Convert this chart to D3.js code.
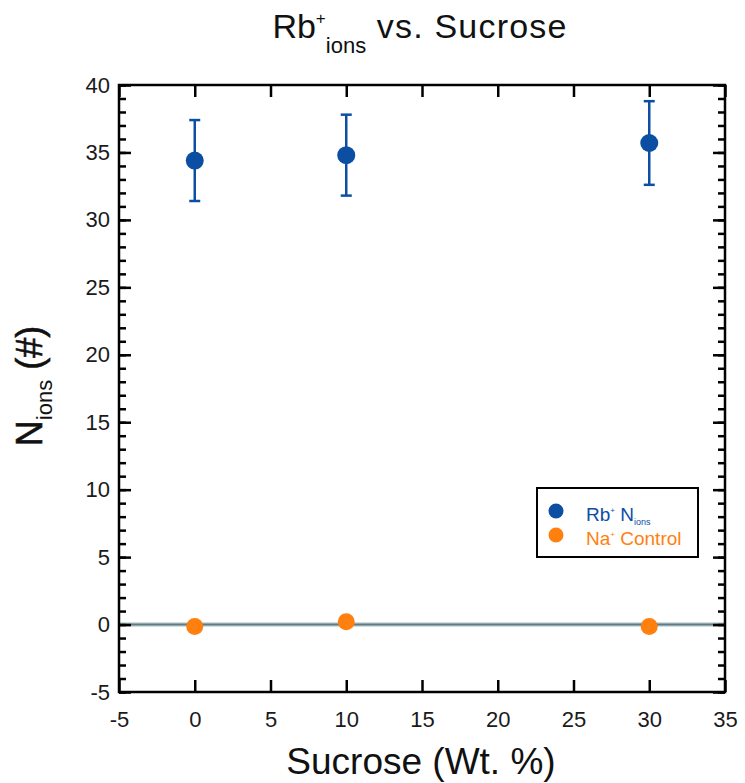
<!DOCTYPE html>
<html>
<head>
<meta charset="utf-8">
<script src="https://cdn.jsdelivr.net/npm/d3@7"></script>
<style>
  body { margin: 0; background: #fff; }
  svg { display: block; font-family: "Liberation Sans", Arial, sans-serif; }
</style>
</head>
<body>
<svg id="chart" width="745" height="783"></svg>
<script>
// ---- data ----
const sucrose = [0, 10, 30];
const rbMean = [34.4, 34.8, 35.7];
const rbErr = [3.0, 3.0, 3.1];
const naMean = [-0.15, 0.2, -0.15];
const xTicks = [-5, 0, 5, 10, 15, 20, 25, 30, 35];
const yTicks = [-5, 0, 5, 10, 15, 20, 25, 30, 35, 40];
const yMinorTicks = d3.range(-5, 41, 1);

const blue = "#0b4ea2";
const orange = "#ff7f0f";

const svg = d3.select("#chart");
const m = { left: 119, right: 725, top: 85, bottom: 692 };

const x = d3.scaleLinear().domain([-5, 35]).range([m.left, m.right]);
const y = d3.scaleLinear().domain([-5, 40]).range([m.bottom, m.top]);
const fmt = d => String(d);

// zero line
svg.append("line")
  .attr("x1", m.left).attr("x2", m.right)
  .attr("y1", y(0)).attr("y2", y(0))
  .attr("stroke", "#c3d2d5").attr("stroke-width", 4.5);
svg.append("line")
  .attr("x1", m.left).attr("x2", m.right)
  .attr("y1", y(0)).attr("y2", y(0))
  .attr("stroke", "#5e7c84").attr("stroke-width", 2);

// axes (inward ticks)
const g = svg.append("g");
const bottomAxis = d3.axisBottom(x).tickValues(xTicks).tickSize(-12).tickPadding(19).tickFormat(fmt);
const topAxis = d3.axisTop(x).tickValues(xTicks).tickSize(-12).tickFormat("");
const leftMinor = d3.axisLeft(y).tickValues(yMinorTicks).tickSize(-7).tickFormat("");
const rightMinor = d3.axisRight(y).tickValues(yMinorTicks).tickSize(-7).tickFormat("");
const leftAxis = d3.axisLeft(y).tickValues(yTicks).tickSize(-12).tickPadding(9).tickFormat(fmt);
const rightAxis = d3.axisRight(y).tickValues(yTicks).tickSize(-12).tickFormat("");

function style(sel) {
  sel.select(".domain").remove();
  sel.selectAll(".tick line").attr("stroke", "#000").attr("stroke-width", 2.5);
  sel.selectAll(".tick text").attr("fill", "#1a1a1a").attr("font-size", 22)
     .attr("font-family", "'Liberation Sans', Arial, sans-serif");
}
g.append("g").attr("transform", `translate(0,${m.bottom})`).call(bottomAxis).call(style);
g.append("g").attr("transform", `translate(0,${m.top})`).call(topAxis).call(style);
g.append("g").attr("transform", `translate(${m.left},0)`).call(leftMinor).call(style);
g.append("g").attr("transform", `translate(${m.right},0)`).call(rightMinor).call(style);
g.append("g").attr("transform", `translate(${m.left},0)`).call(leftAxis).call(style);
g.append("g").attr("transform", `translate(${m.right},0)`).call(rightAxis).call(style);

// frame
svg.append("rect")
  .attr("x", m.left).attr("y", m.top)
  .attr("width", m.right - m.left).attr("height", m.bottom - m.top)
  .attr("fill", "none").attr("stroke", "#000").attr("stroke-width", 2.5);

// error bars Rb
const eb = svg.append("g").attr("stroke", blue).attr("stroke-width", 2.5);
sucrose.forEach((s, i) => {
  const cx = x(s);
  const y1 = y(rbMean[i] + rbErr[i]), y2 = y(rbMean[i] - rbErr[i]);
  eb.append("line").attr("x1", cx).attr("x2", cx).attr("y1", y1).attr("y2", y2);
  eb.append("line").attr("x1", cx - 5.5).attr("x2", cx + 5.5).attr("y1", y1).attr("y2", y1);
  eb.append("line").attr("x1", cx - 5.5).attr("x2", cx + 5.5).attr("y1", y2).attr("y2", y2);
});

// points
svg.append("g").selectAll("circle").data(sucrose).join("circle")
  .attr("cx", d => x(d)).attr("cy", (d, i) => y(rbMean[i])).attr("r", 9).attr("fill", blue);
svg.append("g").selectAll("circle").data(sucrose).join("circle")
  .attr("cx", d => x(d)).attr("cy", (d, i) => y(naMean[i])).attr("r", 8.5).attr("fill", orange);

// legend
const lg = svg.append("g");
lg.append("rect").attr("x", 537).attr("y", 488).attr("width", 161).attr("height", 69)
  .attr("fill", "#fff").attr("stroke", "#000").attr("stroke-width", 2);
lg.append("circle").attr("cx", 556).attr("cy", 511).attr("r", 7.5).attr("fill", blue);
lg.append("circle").attr("cx", 556).attr("cy", 535).attr("r", 7.5).attr("fill", orange);
const t1 = lg.append("text").attr("x", 586).attr("y", 521).attr("font-size", 19).attr("fill", blue);
t1.append("tspan").text("Rb");
t1.append("tspan").attr("font-size", 8).attr("dy", -8).text("+");
t1.append("tspan").attr("dy", 8).text(" N");
t1.append("tspan").attr("font-size", 9).attr("dy", 4).text("ions");
const t2 = lg.append("text").attr("x", 586).attr("y", 545).attr("font-size", 19).attr("fill", orange);
t2.append("tspan").text("Na");
t2.append("tspan").attr("font-size", 8).attr("dy", -8).text("+");
t2.append("tspan").attr("dy", 8).text(" Control");

// title
const title = svg.append("text").attr("x", 420).attr("y", 38).attr("text-anchor", "middle")
  .attr("font-size", 34).attr("fill", "#111");
title.append("tspan").text("Rb");
title.append("tspan").attr("font-size", 17).attr("dy", -14).text("+");
title.append("tspan").attr("font-size", 22).attr("dy", 29).text("ions");
title.append("tspan").attr("dy", -15).attr("letter-spacing", 1.2).text(" vs. Sucrose");

// x label
svg.append("text").attr("x", 421).attr("y", 774).attr("text-anchor", "middle")
  .attr("font-size", 37).attr("fill", "#111").text("Sucrose (Wt. %)");

// y label
const yl = svg.append("text").attr("transform", "translate(42,386) rotate(-90)")
  .attr("text-anchor", "middle").attr("font-size", 36).attr("fill", "#111")
  .attr("stroke", "#111").attr("stroke-width", 0.6);
yl.append("tspan").text("N");
yl.append("tspan").attr("font-size", 22).attr("dy", 10).attr("stroke-width", 0).text("ions");
yl.append("tspan").attr("dy", -10).text(" (#)");
</script>
</body>
</html>
